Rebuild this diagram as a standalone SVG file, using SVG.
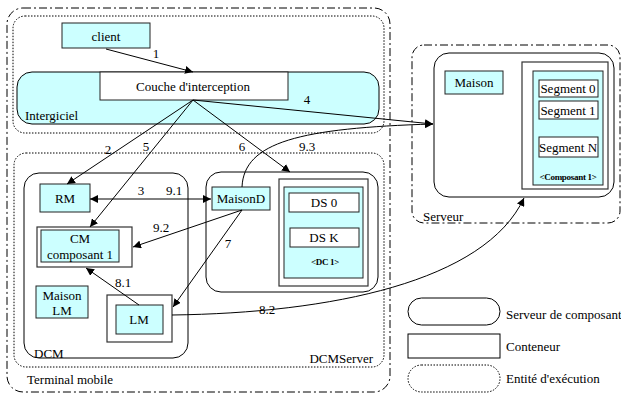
<svg xmlns="http://www.w3.org/2000/svg" width="621" height="394" viewBox="0 0 621 394" font-family="Liberation Serif, DejaVu Serif, serif" font-size="13">
<defs>
<marker id="ah" viewBox="0 0 10 10" refX="10" refY="5" markerWidth="8" markerHeight="8" markerUnits="userSpaceOnUse" orient="auto-start-reverse">
<path d="M0,0 L10,5 L0,10 z" fill="#000"/>
</marker>
<style>
text{font-family:'Liberation Serif',serif;font-size:13px;fill:#000}
.c{text-anchor:middle}
.b{font-weight:bold;font-size:9px;letter-spacing:-0.3px}
.cy{fill:#ccffff;stroke:#222;stroke-width:1}
.wb{fill:#fff;stroke:#222;stroke-width:1}
.ct{fill:#fff;stroke:#333;stroke-width:1.2}
.srv{fill:#fff;stroke:#000;stroke-width:1}
.dot{fill:none;stroke:#000;stroke-width:1;stroke-dasharray:1.5,1.5}
.dd{fill:none;stroke:#000;stroke-width:1;stroke-dasharray:8,3,2,3}
.ln{fill:none;stroke:#000;stroke-width:1}
</style>
</defs>

<g id="terminal">
<rect class="dd" x="7" y="8" width="383" height="384" rx="16"/>
<text x="27" y="384">Terminal mobile</text>
</g>
<g id="exec-client">
<rect class="dot" x="13" y="16" width="371" height="117" rx="12"/>
</g>
<g id="intergiciel">
<rect x="17" y="72" width="362" height="52" rx="15" fill="#ccffff" stroke="#000"/>
<text x="25" y="120">Intergiciel</text>
</g>
<g id="client">
<rect class="cy" x="62" y="23" width="88" height="25"/>
<text class="c" x="106" y="41">client</text>
</g>
<g id="couche">
<rect class="wb" x="100" y="72" width="188" height="28"/>
<text class="c" x="193" y="91">Couche d'interception</text>
</g>

<g id="dcmserver">
<rect class="dot" x="14" y="153" width="370" height="214" rx="12"/>
<text x="373" y="363" text-anchor="end">DCMServer</text>
</g>
<g id="dcm">
<rect class="srv" x="24" y="173" width="164" height="185" rx="15"/>
<text x="34" y="358">DCM</text>
</g>
<g id="rm">
<rect class="cy" x="40" y="184" width="50" height="28"/>
<text class="c" x="65" y="203">RM</text>
</g>
<g id="cm">
<rect class="ct" x="37" y="227" width="95" height="40"/>
<rect class="cy" x="41" y="230" width="78" height="32"/>
<text class="c" x="80" y="243">CM</text>
<text class="c" x="80" y="259">composant 1</text>
</g>
<g id="maisonlm">
<rect class="cy" x="36" y="286" width="52" height="32"/>
<text class="c" x="62" y="300">Maison</text>
<text class="c" x="62" y="315">LM</text>
</g>
<g id="lm">
<rect class="ct" x="107" y="295" width="65" height="47"/>
<rect class="cy" x="116" y="305" width="47" height="29"/>
<text class="c" x="139" y="324">LM</text>
</g>
<g id="dcserver">
<rect class="srv" x="206" y="172" width="172" height="120" rx="15"/>
</g>
<g id="maisond">
<rect class="cy" x="212" y="187" width="58" height="23"/>
<text class="c" x="241" y="203">MaisonD</text>
</g>
<g id="dc1">
<rect class="ct" x="279" y="179" width="89" height="107"/>
<rect class="cy" x="284" y="187" width="79" height="91"/>
<rect class="wb" x="289" y="193" width="70" height="19"/>
<text class="c" x="324" y="207">DS 0</text>
<rect class="wb" x="290" y="228" width="69" height="19"/>
<text class="c" x="324" y="242">DS K</text>
<text class="c b" x="325" y="265">&lt;DC 1&gt;</text>
</g>

<g id="serveur">
<rect class="dd" x="412" y="45" width="208" height="178" rx="12"/>
<text x="423" y="221">Serveur</text>
<rect class="srv" x="434" y="53" width="180" height="144" rx="15"/>
</g>
<g id="maison">
<rect class="cy" x="445" y="71" width="58" height="23"/>
<text class="c" x="474" y="87">Maison</text>
</g>
<g id="composant1">
<rect class="ct" x="522" y="62" width="86" height="127"/>
<rect class="cy" x="533" y="71" width="70" height="114"/>
<rect class="wb" x="539" y="80" width="59" height="17"/>
<text class="c" x="568" y="93">Segment 0</text>
<rect class="wb" x="539" y="101" width="59" height="18"/>
<text class="c" x="568" y="115">Segment 1</text>
<rect class="wb" x="539" y="137" width="59" height="20"/>
<text class="c" x="568" y="152">Segment N</text>
<text class="c b" x="568" y="180">&lt;Composant 1&gt;</text>
</g>

<g id="legend">
<rect class="srv" x="408" y="298" width="92" height="27" rx="13.5"/>
<text x="506" y="319">Serveur de composant</text>
<rect class="srv" x="408" y="334" width="92" height="24"/>
<text x="506" y="351">Conteneur</text>
<rect class="dot" x="408" y="365" width="92" height="27" rx="13.5"/>
<text x="506" y="383">Entité d'exécution</text>
</g>

<g id="connectors">
<line class="ln" x1="106" y1="49" x2="193" y2="72" marker-end="url(#ah)"/>
<line class="ln" x1="193" y1="100" x2="67" y2="184" marker-end="url(#ah)"/>
<line class="ln" x1="193" y1="100" x2="90" y2="227" marker-end="url(#ah)"/>
<line class="ln" x1="193" y1="100" x2="290" y2="172" marker-end="url(#ah)"/>
<line class="ln" x1="193" y1="100" x2="433" y2="124" marker-end="url(#ah)"/>
<path class="ln" d="M242,187 C244,142 300,128 433,124" marker-end="url(#ah)"/>
<line class="ln" x1="90" y1="199" x2="211" y2="199" marker-start="url(#ah)" marker-end="url(#ah)"/>
<line class="ln" x1="242" y1="210" x2="133" y2="247" marker-end="url(#ah)"/>
<line class="ln" x1="242" y1="210" x2="173" y2="307" marker-end="url(#ah)"/>
<line class="ln" x1="139" y1="305" x2="86" y2="268" marker-end="url(#ah)"/>
<path class="ln" d="M172,315 C330,313 485,282 524,198" marker-end="url(#ah)"/>
<text class="c" x="156" y="58">1</text>
<text class="c" x="307" y="104">4</text>
<text class="c" x="108" y="154">2</text>
<text class="c" x="146" y="151">5</text>
<text class="c" x="242" y="151">6</text>
<text class="c" x="307" y="151">9.3</text>
<text class="c" x="141" y="195">3</text>
<text class="c" x="174" y="195">9.1</text>
<text class="c" x="161" y="232">9.2</text>
<text class="c" x="228" y="248">7</text>
<text class="c" x="123" y="287">8.1</text>
<text class="c" x="267" y="314">8.2</text>
</g>
</svg>
